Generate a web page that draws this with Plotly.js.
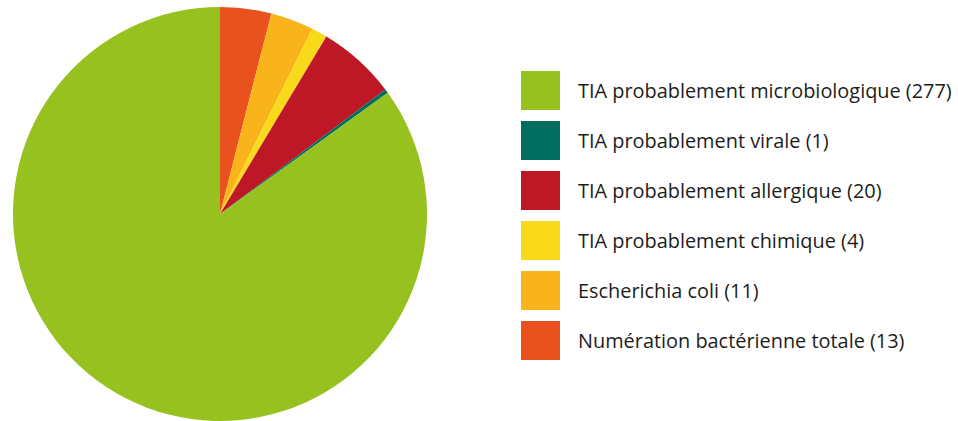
<!DOCTYPE html>
<html><head><meta charset="utf-8">
<script src="https://cdn.plot.ly/plotly-3.0.1.min.js"></script>
<style>html,body{margin:0;padding:0;background:#fff}#chart{width:958px;height:421px}</style>
</head><body><div id="chart"></div>
<script>
// Slice order, clockwise from 12 o'clock
const labels = ["Numération bactérienne totale", "Escherichia coli", "TIA probablement chimique", "TIA probablement allergique", "TIA probablement virale", "TIA probablement microbiologique"];
const values = [13, 11, 4, 20, 1, 277];
const colors = ["#E9511F", "#F9B31B", "#F9DA1A", "#BE1826", "#006D5F", "#96C11F"];
// Legend order (top to bottom)
const legendOrder = [5, 4, 3, 2, 1, 0];

const W = 958, H = 421;
const shapes = [], annotations = [];
legendOrder.forEach((idx, row) => {
  const cy = 90.5 + row * 50;
  shapes.push({type:'rect', xref:'paper', yref:'paper',
    x0: 521/W, x1: 560/W, y0: 1-(cy+19.5)/H, y1: 1-(cy-19.5)/H,
    fillcolor: colors[idx], line:{width:0}});
  annotations.push({xref:'paper', yref:'paper', x: 576/W, y: 1-cy/H,
    xanchor:'left', yanchor:'middle', showarrow:false,
    text: labels[idx] + " (" + values[idx] + ")",
    font:{family:'Open Sans, sans-serif', size:19.9, color:'#1d1d1b'}});
});

const trace = {
  type:'pie', labels: labels, values: values, sort:false,
  direction:'clockwise', rotation:0,
  marker:{colors: colors, line:{width:0}},
  textinfo:'none', hoverinfo:'label+value',
  domain:{x:[12/W, 428/W], y:[0, 1-7/H]}
};
Plotly.newPlot('chart', [trace], {
  width:W, height:H, margin:{l:0,r:0,t:0,b:0},
  paper_bgcolor:'#fff', showlegend:false,
  shapes: shapes, annotations: annotations
}, {displayModeBar:false, staticPlot:true});
</script></body></html>
